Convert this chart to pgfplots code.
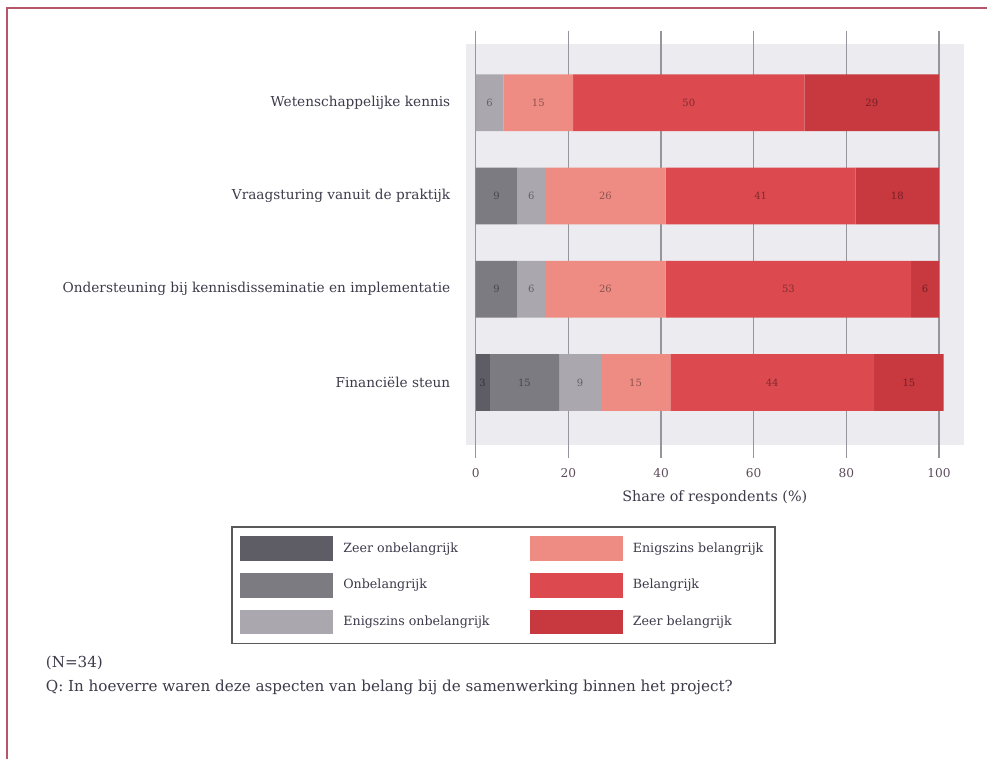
\documentclass[border=0pt]{standalone}
\usepackage{pgfplots}
\pgfplotsset{compat=1.18}
\usepackage{fontspec}
\setmainfont{DejaVu Serif}

\definecolor{zeeronb}{HTML}{5E5D66}
\definecolor{onb}{HTML}{7C7B82}
\definecolor{enigonb}{HTML}{AAA8AE}
\definecolor{enigbel}{HTML}{EE8C84}
\definecolor{bel}{HTML}{DC4A50}
\definecolor{zeerbel}{HTML}{C7383F}
\definecolor{plotbg}{HTML}{EBEBF0}
\definecolor{gridgray}{HTML}{96949C}
\definecolor{labeltext}{HTML}{3D3A4A}
\definecolor{ticktext}{HTML}{5A4A58}
\definecolor{framered}{HTML}{B5566A}

\begin{document}
\begin{tikzpicture}
% page is 988 x 760 px at 0.6pt per px
\path (0pt,0pt) rectangle (592.8pt,456pt);
\draw[framered, line width=1.2pt] (4.2pt,0pt) -- (4.2pt,451.2pt) -- (592.8pt,451.2pt);

\begin{axis}[
    at={(279.6pt,189pt)}, anchor=south west,
    scale only axis, width=299.4pt, height=240.6pt,
    xbar stacked, bar width=34pt,
    xmin=-2.2, xmax=105.4, ymin=0.335, ymax=4.63,
    axis background/.style={fill=plotbg},
    axis line style={draw=none},
    xmajorgrids, grid style={gridgray, line width=0.7pt},
    tick align=outside, major tick length=8pt,
    xtick={0,20,40,60,80,100},
    xtick style={gridgray, line width=0.7pt},
    ytick={1,2,3,4},
    ytick style={draw=none},
    yticklabels={Financiële steun, Ondersteuning bij kennisdisseminatie en implementatie, Vraagsturing vanuit de praktijk, Wetenschappelijke kennis},
    yticklabel style={font=\fontsize{8.2}{10}\selectfont, text=labeltext, inner xsep=1pt},
    xticklabel style={font=\fontsize{7.3}{8}\selectfont, text=ticktext, yshift=-3pt},
    /pgf/number format/assume math mode=true,
    xlabel={Share of respondents (\%)},
    xlabel style={font=\fontsize{8.6}{10}\selectfont, text=labeltext, yshift=-1pt},
    legend columns=2, legend cell align=left,
    legend image code/.code={\path[#1, draw=none] (0pt,-7.5pt) rectangle (56pt,7.5pt);},
    legend style={at={(0.076,-0.204)}, anchor=north, draw=black!65, line width=1pt,
        fill=white, font=\fontsize{7.6}{9}\selectfont, text=labeltext,
        inner xsep=5pt, inner ysep=5.5pt, row sep=7pt,
        /tikz/every odd column/.append style={column sep=4pt},
        /tikz/every even column/.append style={column sep=22pt}},
    nodes near coords={\pgfmathfloatifflags{\pgfplotspointmeta}{0}{}{\pgfmathprintnumber{\pgfplotspointmeta}}},
    every node near coord/.append style={anchor=center, font=\fontsize{6}{7}\selectfont,
        text=black, text opacity=0.42},
]
% legend swatches, in the order of the reference
\addlegendimage{fill=zeeronb}\addlegendentry{Zeer onbelangrijk}
\addlegendimage{fill=enigbel}\addlegendentry{Enigszins belangrijk}
\addlegendimage{fill=onb}\addlegendentry{Onbelangrijk}
\addlegendimage{fill=bel}\addlegendentry{Belangrijk}
\addlegendimage{fill=enigonb}\addlegendentry{Enigszins onbelangrijk}
\addlegendimage{fill=zeerbel}\addlegendentry{Zeer belangrijk}

\addplot[fill=zeeronb, draw=none] coordinates {(3,1) (0,2) (0,3) (0,4)};
\addplot[fill=onb, draw=none] coordinates {(15,1) (9,2) (9,3) (0,4)};
\addplot[fill=enigonb, draw=none] coordinates {(9,1) (6,2) (6,3) (6,4)};
\addplot[fill=enigbel, draw=none] coordinates {(15,1) (26,2) (26,3) (15,4)};
\addplot[fill=bel, draw=none] coordinates {(44,1) (53,2) (41,3) (50,4)};
\addplot[fill=zeerbel, draw=none] coordinates {(15,1) (6,2) (18,3) (29,4)};
\end{axis}

\node[anchor=west, font=\fontsize{9.1}{11}\selectfont, text=labeltext] at (24pt,57.6pt) {(N=34)};
\node[anchor=west, font=\fontsize{9.1}{11}\selectfont, text=labeltext] at (24pt,43.2pt) {Q: In hoeverre waren deze aspecten van belang bij de samenwerking binnen het project?};
\end{tikzpicture}
\end{document}
